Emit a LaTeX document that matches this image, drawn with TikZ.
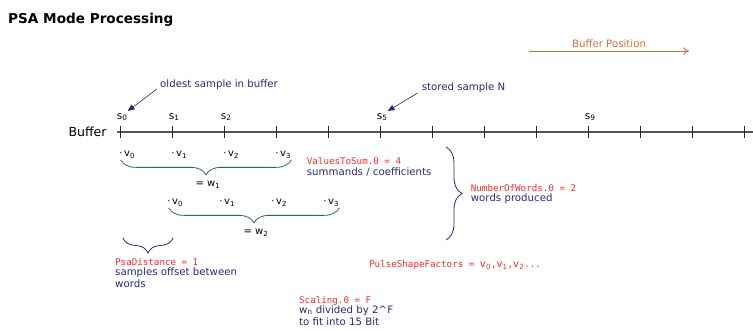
\documentclass[tikz,border=0pt]{standalone}
\usepackage{fontspec}
\setmainfont{DejaVu Sans}
\setmonofont{DejaVu Sans Mono}
\usetikzlibrary{arrows.meta,decorations.pathreplacing,calc}
\definecolor{navy}{RGB}{40,40,125}
\definecolor{param}{RGB}{252,42,42}
\definecolor{sumgreen}{RGB}{40,112,70}
\definecolor{posorange}{RGB}{212,112,62}
\definecolor{bufgray}{RGB}{85,85,85}
\newcommand{\coef}[1]{v\textsubscript{#1}}
\newcommand{\pcoef}[1]{{\rmfamily\fontsize{10.2}{11}\selectfont\coef{#1}}}
\tikzset{
  title/.style={font=\bfseries\fontsize{13.6}{16}\selectfont,anchor=west,inner sep=0pt},
  bufname/.style={font=\fontsize{12.5}{14}\selectfont,inner sep=0pt},
  bufline/.style={line width=1.4pt,bufgray},
  tick/.style={line width=0.8pt,black!85},
  smp/.style={font=\fontsize{10.5}{12}\selectfont,anchor=west,inner sep=0pt},
  coefval/.style={font=\fontsize{10}{12}\selectfont,anchor=west,inner sep=0pt},
  note/.style={font=\fontsize{10.2}{11.8}\selectfont,text=navy,align=left,anchor=west,inner sep=0pt},
  paramtext/.style={font=\ttfamily\fontsize{9.2}{11}\selectfont,text=param,anchor=west,inner sep=0pt},
  pointer/.style={-{Triangle[length=2.4mm,width=2mm]},navy,line width=0.6pt},
  posarrow/.style={-{To[length=2mm,width=2.6mm]},posorange,line width=0.9pt},
  sumbrace/.style={decorate,decoration={brace,amplitude=15pt},sumgreen,line width=0.8pt},
  gapbrace/.style={decorate,decoration={brace,amplitude=16pt},navy,line width=0.8pt}
}
\begin{document}
\begin{tikzpicture}[x=1pt,y=1pt]
\useasboundingbox (0,0) rectangle (753,331);
\node[title] (head) at (8,311) {PSA Mode Processing};
\node[bufname] (buf) at (87.5,199) {Buffer};
\coordinate (bufstart) at (117,199);
\coordinate (bufend) at (753,199);
\draw[bufline] (bufstart) -- (bufend);
\foreach \k in {0,...,12}{
  \coordinate (t\k) at (120.7+52*\k,199);
  \draw[tick] ($(t\k)+(0,6)$) -- ($(t\k)+(0,-6)$);
}
\foreach \k in {0,1,2,5,9}
  \node[smp] (s\k) at ($(t\k)+(-4,15)$) {s\textsubscript{\k}};
\foreach \k in {0,...,3}{
  \node[coefval] (va\k) at ($(t\k)+(-1.5,-23)$) {·\,\coef{\k}};
  \node[coefval] (vb\k) at ($(t\k)+(46.5,-71)$) {·\,\coef{\k}};
}
\draw[sumbrace] ($(va3.south east)+(0,-1)$) -- ($(va0.south west)+(1.5,-1)$);
\node[coefval,anchor=center] (w1) at (208,146) {= w\textsubscript{1}};
\draw[sumbrace] ($(vb3.south east)+(0,-1)$) -- ($(vb0.south west)+(1.5,-1)$);
\node[coefval,anchor=center] (w2) at (256,98) {= w\textsubscript{2}};
\node[note] (oldest) at (160,246) {oldest sample in buffer};
\draw[pointer] ($(oldest.west)+(-3,-4)$) -- ($(s0.north east)+(0,2)$);
\node[note] (stored) at (421.7,243) {stored sample N};
\draw[pointer] ($(stored.west)+(-4,-5)$) -- ($(s5.north east)+(0,2)$);
\node[note,text=posorange,anchor=center] (bufpos) at (609,287) {Buffer Position};
\coordinate (posa) at (529,280);
\coordinate (posb) at (689,280);
\draw[posarrow] (posa) -- (posb);
\node[paramtext] (vts) at (306.7,170) {ValuesToSum.0 = 4};
\node[note] (vtsnote) at (306.7,159) {summands / coefficients};
\coordinate (nwtop) at (446,184);
\coordinate (nwbot) at (446,91);
\draw[gapbrace] (nwtop) -- (nwbot);
\node[paramtext] (now) at (470.7,143) {NumberOfWords.0 = 2};
\node[note] (nownote) at (470.7,132) {words produced};
\coordinate (pdl) at (123,93);
\coordinate (pdr) at (173,93);
\draw[gapbrace,decoration={amplitude=15pt}] (pdr) -- (pdl);
\node[paramtext] (pd) at (115,69) {PsaDistance = 1};
\node[note,anchor=north west] (pdnote) at (115,63.5) {samples offset between\\words};
\node[paramtext] (psf) at (369,66) {PulseShapeFactors = \pcoef{0},\pcoef{1},\pcoef{2}...};
\node[paramtext] (scl) at (299,30) {Scaling.0 = F};
\node[note,anchor=north west] (sclnote) at (299,25.5) {w\textsubscript{n} divided by 2\textasciicircum F\\to fit into 15 Bit};
\end{tikzpicture}
\end{document}
